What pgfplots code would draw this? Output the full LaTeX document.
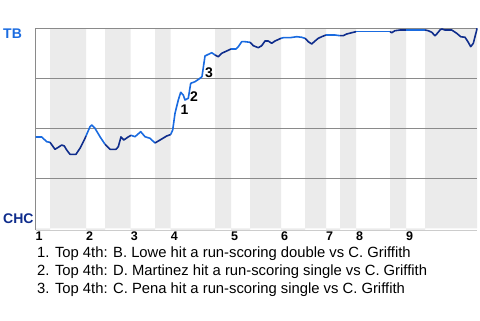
\documentclass[border=0pt]{standalone}
\usepackage{fontspec}
\setmainfont{Liberation Sans}
\usepackage{pgfplots}
\pgfplotsset{compat=1.18}
\definecolor{tbblue}{HTML}{1A6BE0}
\definecolor{chcnavy}{HTML}{0F2D8C}
\definecolor{band}{HTML}{EBEBEB}
\definecolor{gridg}{HTML}{8A8A8A}
\pgfplotsset{wpbase/.style={
  at={(35.5bp,90bp)}, anchor=south west,
  width=441.5bp, height=201.7bp, scale only axis,
  xmin=0, xmax=441.5, ymin=-0.85, ymax=100, clip=false}}
\begin{document}
\begin{tikzpicture}[x=1bp,y=1bp]
\useasboundingbox (0,0) rectangle (480,320);
% shaded bottom-half innings
\begin{axis}[wpbase, hide axis]
\addplot[const plot, fill=band, draw=none] coordinates {
 (0,-0.85) (14.5,100) (50.5,-0.85) (69.5,100) (95.2,-0.85) (119.5,100)
 (135.2,-0.85) (179.5,100) (195.5,-0.85) (214.5,100) (245.5,-0.85)
 (269.5,100) (290.5,-0.85) (304.5,100) (320.5,-0.85) (354.5,100)
 (370.5,-0.85) (389.5,100) (441.5,100)} \closedcycle;
\end{axis}
\begin{axis}[wpbase,
  axis x line*=bottom, axis y line*=left,
  x axis line style={draw=black!20,-, line width=0.8bp},
  y axis line style={draw=gridg,-, line width=0.8bp},
  ytick={25,50,75,100}, yticklabels={},
  ymajorgrids, grid style={gridg, line width=0.8bp},
  major tick length=0pt,
  xtick={0,50.5,95.2,135.2,195.5,245.5,290.5,320.5,370.5},
  xticklabels={1,2,3,4,5,6,7,8,9},
  xticklabel style={anchor=north west, inner sep=0pt, yshift=-2bp,
    font=\fontsize{12.5bp}{14bp}\selectfont\bfseries},
  every axis plot/.append style={line width=1.6bp, line join=round},
]
\addplot[tbblue] coordinates {(0,45.65)(6.2,45.65)(11.2,43.3)(14.5,43.0)};
\addplot[chcnavy] coordinates {(14.5,43.0)(19.5,39.5)(22.8,40.5)(26.2,41.65)(28.8,41.15)(31.2,39.15)(34.5,37.0)(40.5,37.0)(44.5,40.0)(49.5,45.0)(50.5,46.15)};
\addplot[tbblue] coordinates {(50.5,46.15)(54.5,50.8)(56.2,51.65)(59.5,50.0)(64.5,45.8)(69.5,42.0)};
\addplot[chcnavy] coordinates {(69.5,42.0)(74.5,39.5)(80.5,39.5)(82.8,40.8)(85.5,45.7)(88.3,44.15)(92.5,45.6)(95.5,46.5)};
\addplot[tbblue] coordinates {(95.5,46.5)(99.5,45.8)(105.2,48.3)(109.5,45.8)(114.5,45.0)(119.5,42.65)};
\addplot[chcnavy] coordinates {(119.5,42.65)(126.2,44.65)(131.2,46.15)(135.2,46.9)};
\addplot[tbblue] coordinates {(135.2,46.9)(137.2,49.15)(139.5,57.5)(142.8,64.15)(145.2,68.0)(147.8,66.65)(149.5,64.15)(152.8,65.0)(155.2,72.5)(159.5,73.3)(164.5,75.0)(166.5,75.9)(169.5,86.15)(171.5,86.65)(176.2,87.8)(179.5,86.65)};
\addplot[chcnavy] coordinates {(179.5,86.65)(182.8,85.8)(186.2,87.5)(191.2,88.65)(195.5,89.65)};
\addplot[tbblue] coordinates {(195.5,89.65)(200.5,89.65)(202.8,90.8)(206.2,93.3)(209.5,93.3)(214.5,93.0)};
\addplot[chcnavy] coordinates {(214.5,93.0)(217.8,91.3)(222.8,90.3)(226.2,91.3)(229.5,93.65)(232.8,93.65)(236.2,92.5)(239.5,93.65)(245.5,95.0)};
\addplot[tbblue] coordinates {(245.5,95.0)(247.8,95.3)(254.5,95.3)(261.2,95.8)(266.2,95.5)(269.5,95.0)};
\addplot[chcnavy] coordinates {(269.5,95.0)(272.8,93.3)(276.2,92.15)(279.5,93.65)(282.8,95.0)(286.2,95.8)(290.5,96.65)};
\addplot[tbblue] coordinates {(290.5,96.65)(299.5,96.65)(304.5,96.3)};
\addplot[chcnavy] coordinates {(304.5,96.3)(307.8,96.3)(311.2,97.15)(316.2,97.8)(320.5,98.3)};
\addplot[tbblue] coordinates {(320.5,98.3)(354.5,98.3)};
\addplot[chcnavy] coordinates {(354.5,98.3)(356.2,97.8)(359.5,98.8)(364.5,99.15)(370.5,99.15)};
\addplot[tbblue] coordinates {(370.5,99.15)(389.5,99.15)};
\addplot[chcnavy] coordinates {(389.5,99.15)(392.8,98.8)(396.2,98.0)(399.5,96.3)(401.8,97.5)(404.5,99.15)(406.2,99.65)(409.5,99.15)(416.2,99.15)(421.2,97.5)(425.2,95.8)(429.5,95.5)(432.8,93.0)(435.2,90.8)(437.8,92.5)(441.2,99.15)(441.5,100)};
\end{axis}
\begin{scope}[every node/.style={inner sep=0pt}]
\node[anchor=west, text=tbblue, font=\fontsize{14bp}{16bp}\selectfont\bfseries] at (3,286.3) {TB};
\node[anchor=west, text=chcnavy, font=\fontsize{14bp}{16bp}\selectfont\bfseries] at (3,101.7) {CHC};
\node[font=\fontsize{14bp}{16bp}\selectfont\bfseries] at (184.5,210.5) {1};
\node[font=\fontsize{14bp}{16bp}\selectfont\bfseries] at (194,223.3) {2};
\node[font=\fontsize{14bp}{16bp}\selectfont\bfseries] at (209,247.3) {3};
\node[anchor=base west, font=\fontsize{14.8bp}{17bp}\selectfont] at (37,62.5) {1. Top 4th: B. Lowe hit a run-scoring double vs C. Griffith};
\node[anchor=base west, font=\fontsize{14.8bp}{17bp}\selectfont] at (37,44.5) {2. Top 4th: D. Martinez hit a run-scoring single vs C. Griffith};
\node[anchor=base west, font=\fontsize{14.8bp}{17bp}\selectfont] at (37,26.5) {3. Top 4th: C. Pena hit a run-scoring single vs C. Griffith};
\end{scope}
\end{tikzpicture}
\end{document}
